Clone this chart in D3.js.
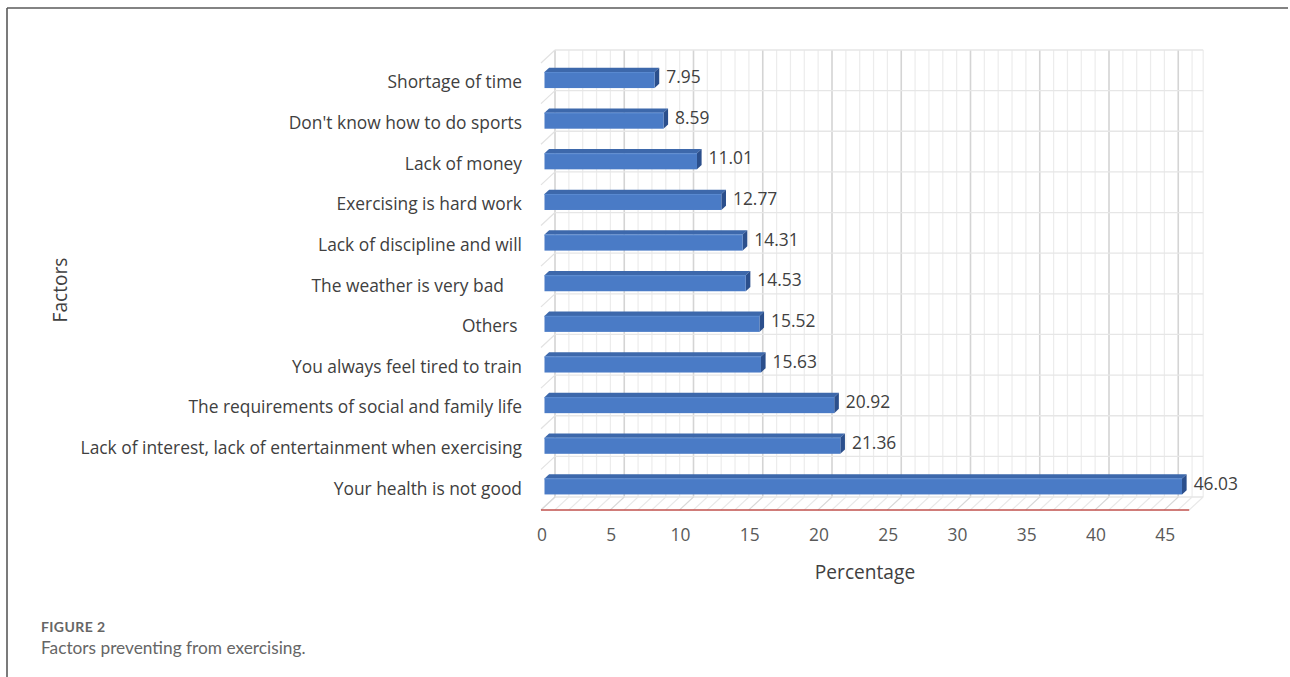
<!DOCTYPE html>
<html><head><meta charset="utf-8">
<script src="https://cdn.jsdelivr.net/npm/d3@7"></script>
<style>
html,body{margin:0;padding:0;background:#fff;}
svg text{font-family:"Open Sans",sans-serif;white-space:pre;}
</style></head>
<body>
<svg id="c" width="1290" height="677"></svg>
<script>
const categories = ["Shortage of time","Don't know how to do sports","Lack of money","Exercising is hard work","Lack of discipline and will","The weather is very bad    ","Others ","You always feel tired to train","The requirements of social and family life","Lack of interest, lack of entertainment when exercising","Your health is not good"];
const values = [7.95,8.59,11.01,12.77,14.31,14.53,15.52,15.63,20.92,21.36,46.03];
const xTicks = [0,5,10,15,20,25,30,35,40,45];
const xMax = 46.8;

const svg = d3.select("#c");
const W=1290,H=677;
svg.append("line").attr("x1",7).attr("x2",1288).attr("y1",8).attr("y2",8).attr("stroke","#5a5a5a").attr("stroke-width",1.6);
svg.append("line").attr("x1",7).attr("x2",7).attr("y1",8).attr("y2",H).attr("stroke","#5a5a5a").attr("stroke-width",1.6);

const probe=svg.append("text").attr("font-size",16).text(categories[9]);
const fs=16*442/probe.node().getComputedTextLength();
probe.remove();

const x = d3.scaleLinear().domain([0,xMax]).range([541,541+xMax*13.85]);
const y = d3.scaleBand().domain(categories).range([63,510]).padding(0);
const DX=14, DY=-13;
const bw=y.bandwidth();
const g=svg.append("g");

g.append("rect").attr("x",x(0)+DX).attr("y",63+DY).attr("width",x(xMax)-x(0)).attr("height",510-63).attr("fill","#fff");
const ints=d3.range(0,Math.floor(xMax)+1);
g.selectAll(".bv").data(ints).join("line")
 .attr("x1",d=>x(d)+DX).attr("x2",d=>x(d)+DX).attr("y1",63+DY).attr("y2",510+DY)
 .attr("stroke",d=>d%5===0?"#d4d4d4":"#ececec").attr("stroke-width",d=>d%5===0?1.6:1.2);
g.append("line").attr("x1",x(xMax)+DX).attr("x2",x(xMax)+DX).attr("y1",63+DY).attr("y2",510+DY).attr("stroke","#ececec").attr("stroke-width",1.2);
const bounds=categories.map(c=>y(c)).concat([510]);
g.selectAll(".bh").data(bounds).join("line")
 .attr("x1",x(0)+DX).attr("x2",x(xMax)+DX).attr("y1",d=>d+DY).attr("y2",d=>d+DY)
 .attr("stroke","#e6e6e6").attr("stroke-width",1.3);
g.selectAll(".lw").data(bounds).join("line")
 .attr("x1",x(0)).attr("y1",d=>d).attr("x2",x(0)+DX).attr("y2",d=>d+DY)
 .attr("stroke","#e2e2e2").attr("stroke-width",1.2);
g.selectAll(".fl").data(ints.concat([xMax])).join("line")
 .attr("x1",d=>x(d)).attr("y1",510).attr("x2",d=>x(d)+DX).attr("y2",510+DY)
 .attr("stroke",d=>d%5===0?"#d8d8d8":"#e8e8e8").attr("stroke-width",1.1);
g.append("line").attr("x1",x(0)).attr("x2",x(xMax)).attr("y1",510).attr("y2",510).attr("stroke","#c0504d").attr("stroke-width",1.6);

const f0=0.25,f1=0.58, bh=16;
const bars=g.selectAll(".bar").data(values).join("g");
bars.each(function(v,i){
  const gg=d3.select(this);
  const cy=y(categories[i])+bw/2;
  const ox=DX*f0, oy=DY*f0, ex=DX*(f1-f0), ey=DY*(f1-f0);
  const x0=x(0)+ox, x1=x(v)+ox, yt=cy+oy-bh/2, yb=cy+oy+bh/2;
  gg.append("path").attr("d",`M${x0},${yt}L${x0+ex},${yt+ey}L${x1+ex},${yt+ey}L${x1},${yt}Z`).attr("fill","#3d68ab");
  gg.append("path").attr("d",`M${x1},${yt}L${x1+ex},${yt+ey}L${x1+ex},${yb+ey}L${x1},${yb}Z`).attr("fill","#2b4f8c");
  gg.append("rect").attr("x",x0).attr("y",yt).attr("width",x1-x0).attr("height",bh).attr("fill","#4a7bc6");
  gg.append("line").attr("x1",x0).attr("x2",x1).attr("y1",yt+0.5).attr("y2",yt+0.5).attr("stroke","#5a8ad0").attr("stroke-width",1);
  gg.append("text").attr("x",x1+ex+7).attr("y",cy+oy-3).attr("dy","0.35em")
   .attr("font-size",fs).attr("fill","#404040").text(v.toFixed(2));
});

g.selectAll(".cl").data(categories).join("text")
 .attr("x",522).attr("y",d=>y(d)+bw/2-1).attr("dy","0.35em").attr("text-anchor","end")
 .attr("font-size",fs).attr("fill","#404040").text(d=>d);

g.selectAll(".xt").data(xTicks).join("text")
 .attr("x",d=>x(d)+1).attr("y",535).attr("dy","0.35em").attr("text-anchor","middle")
 .attr("font-size",fs).attr("fill","#595959").text(d=>d);

g.append("text").attr("x",865).attr("y",572).attr("dy","0.35em").attr("text-anchor","middle")
 .attr("font-size",fs*1.1).attr("fill","#404040").text("Percentage");
g.append("text").attr("transform","translate(60,290) rotate(-90)").attr("dy","0.35em").attr("text-anchor","middle")
 .attr("font-size",fs*1.1).attr("fill","#404040").text("Factors");

svg.append("text").attr("x",41).attr("y",627).attr("dy","0.35em").attr("font-size",14).attr("font-weight",700)
 .attr("letter-spacing",0.4).attr("fill","#666").attr("style","font-family:Lato,sans-serif").text("FIGURE 2");
svg.append("text").attr("x",41).attr("y",648).attr("dy","0.35em").attr("font-size",17.3)
 .attr("fill","#666").attr("style","font-family:Lato,sans-serif").text("Factors preventing from exercising.");
</script>
</body></html>
